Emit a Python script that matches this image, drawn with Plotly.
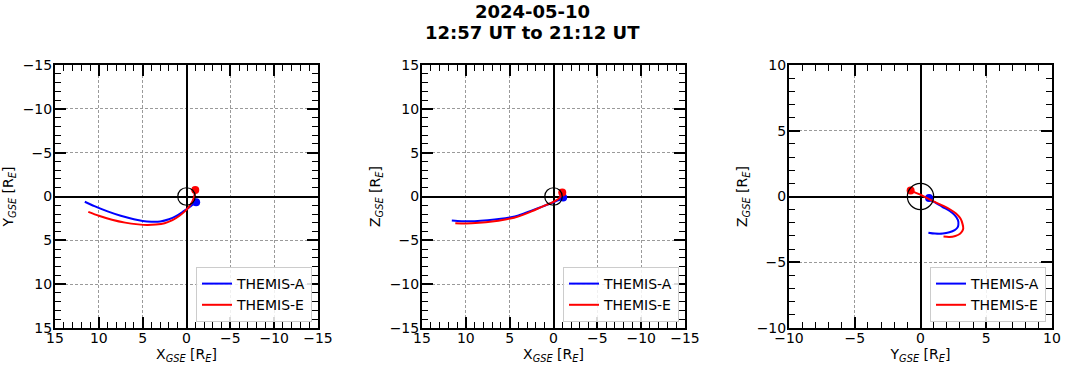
import plotly.graph_objects as go

W, H = 1065, 368

# THEMIS-A (blue) GSE positions [R_E], far end -> near-Earth end (dot)
tha_x = [11.6, 10.5, 9.0, 7.5, 6.0, 5.0, 4.0, 3.0, 2.0, 1.2, 0.5, 0.0, -0.5, -0.9, -1.1]
tha_y = [0.6, 1.1, 1.7, 2.2, 2.6, 2.8, 2.88, 2.85, 2.6, 2.25, 1.8, 1.45, 1.1, 0.8, 0.65]
tha_z = [-2.75, -2.82, -2.82, -2.72, -2.55, -2.38, -2.15, -1.8, -1.42, -1.12, -0.86, -0.66, -0.45, -0.28, -0.12]

# THEMIS-E (red)
the_x = [11.2, 10.0, 8.5, 7.0, 5.5, 4.5, 3.5, 2.5, 1.6, 0.8, 0.2, -0.3, -0.7, -0.9, -1.0]
the_y = [1.75, 2.2, 2.65, 2.98, 3.18, 3.25, 3.2, 3.05, 2.7, 2.2, 1.7, 1.15, 0.5, -0.1, -0.75]
the_z = [-3.05, -3.08, -3.0, -2.85, -2.62, -2.42, -2.1, -1.7, -1.3, -0.95, -0.7, -0.45, -0.12, 0.18, 0.45]

sc_names = ["THEMIS-A", "THEMIS-E"]
sc_colors = ["blue", "red"]

title_lines = ["2024-05-10", "12:57 UT to 21:12 UT"]

FONT = "DejaVu Sans"

fig = go.Figure()

panels = [
    ("x", "y", [15, -15], [15, -15], "X", "Y", (55, 318)),
    ("x", "z", [15, -15], [-15, 15], "X", "Z", (422, 685)),
    ("y", "z", [-10, 10], [-10, 10], "Y", "Z", (789, 1052)),
]

data = {
    0: {"x": tha_x, "y": tha_y, "z": tha_z},
    1: {"x": the_x, "y": the_y, "z": the_z},
}

ytop, ybot = 65, 328
ydom = [1 - ybot / H, 1 - ytop / H]

for p, (cx, cy, xr, yr, xt, yt, (x0, x1)) in enumerate(panels):
    n = p + 1
    xa = "x" if n == 1 else f"x{n}"
    ya = "y" if n == 1 else f"y{n}"
    leg = "legend" if n == 1 else f"legend{n}"
    for s in range(2):
        d = data[s]
        fig.add_trace(go.Scatter(
            x=d[cx], y=d[cy], mode="lines",
            line=dict(color=sc_colors[s], width=2, shape="spline", smoothing=0.8),
            name=sc_names[s], xaxis=xa, yaxis=ya, legend=leg,
            showlegend=True,
        ))
        fig.add_trace(go.Scatter(
            x=[d[cx][-1]], y=[d[cy][-1]], mode="markers",
            marker=dict(color=sc_colors[s], size=8),
            xaxis=xa, yaxis=ya, showlegend=False,
        ))
    fig.add_shape(type="circle", xref=xa, yref=ya, x0=-1, x1=1, y0=-1, y1=1,
                  line=dict(color="black", width=1.2), layer="above")

    xkey = "xaxis" if n == 1 else f"xaxis{n}"
    ykey = "yaxis" if n == 1 else f"yaxis{n}"
    fig.layout[xkey] = dict(
        domain=[x0 / W, x1 / W], range=xr, anchor=ya,
        title=dict(text=f"{xt}<sub><i>GSE</i></sub> [R<sub><i>E</i></sub>]", standoff=0),
        ticklabelstandoff=-4,
    )
    fig.layout[ykey] = dict(
        domain=ydom, range=yr, anchor=xa,
        title=dict(text=f"{yt}<sub><i>GSE</i></sub> [R<sub><i>E</i></sub>]", standoff=6),
        ticklabelstandoff=-2,
    )
    fig.layout[leg] = dict(
        x=(x1 - 6) / W, y=1 - (ybot - 6) / H, xanchor="right", yanchor="bottom",
        bgcolor="rgba(255,255,255,0.85)", bordercolor="#cccccc", borderwidth=1,
        font=dict(family=FONT, size=14, color="black"),
        tracegroupgap=0,
    )

axis_common = dict(
    automargin=False,
    showline=True, linecolor="black", linewidth=2, mirror="allticks",
    ticks="inside", ticklen=11, tickwidth=1.5, tickcolor="black",
    dtick=5, tick0=0,
    showgrid=True, gridcolor="#9a9a9a", gridwidth=1, griddash="3px,2px",
    zeroline=True, zerolinecolor="black", zerolinewidth=1.6,
    tickfont=dict(family=FONT, size=14, color="black"),
    title_font=dict(family=FONT, size=14, color="black"),
)
fig.update_xaxes(**axis_common)
fig.update_yaxes(**axis_common)
minor = dict(dtick=1, tick0=0, ticks="inside", ticklen=6, tickwidth=1.2,
             tickcolor="black", showgrid=False)
fig.update_xaxes(minor=minor)
fig.update_yaxes(minor=minor)

# two-line bold title
fig.add_annotation(
    text="<b>" + title_lines[0] + "</b>",
    xref="paper", yref="paper", x=0.5, y=1 + 1.5 / H, xanchor="center", yanchor="top",
    showarrow=False, font=dict(family=FONT, size=18, color="black"),
)
fig.add_annotation(
    text="<b>" + title_lines[1] + "</b>",
    xref="paper", yref="paper", x=0.5, y=1 - 20 / H, xanchor="center", yanchor="top",
    showarrow=False, font=dict(family=FONT, size=18, color="black"),
)

fig.update_layout(
    width=W, height=H, margin=dict(l=0, r=0, t=0, b=0, autoexpand=False),
    paper_bgcolor="white", plot_bgcolor="white", showlegend=True,
)

fig.write_html("out.html", config={"displayModeBar": False},
               post_script="document.body.style.margin='0';")
